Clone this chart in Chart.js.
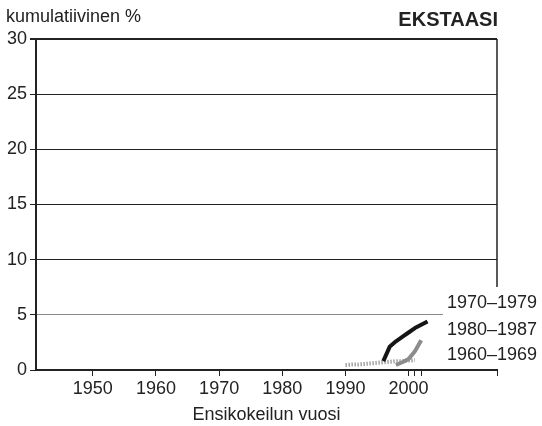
<!DOCTYPE html>
<html>
<head>
<meta charset="utf-8">
<title>Ekstaasi – kumulatiivinen %</title>
<script src="https://cdn.jsdelivr.net/npm/chart.js@4.4.1/dist/chart.umd.min.js"></script>
<style>
  html, body { margin: 0; padding: 0; background: #fff; }
  #wrap { width: 542px; height: 426px; position: relative; }
</style>
</head>
<body>
<div id="wrap"><canvas id="chart"></canvas></div>
<script>
// ---- Data ----
const yTicks = [0, 5, 10, 15, 20, 25, 30];
const xTickYears = [1950, 1960, 1970, 1980, 1990, 2000];
const xMinorTicks = [2001, 2002, 2014];

const cohortLabels = ['1970–1979', '1980–1987', '1960–1969'];

const years7079 = [1996, 1997, 1998, 1999, 2000, 2001, 2002, 2003];
const values7079 = [0.8, 2.1, 2.6, 3.0, 3.4, 3.8, 4.1, 4.4];

const years8087 = [1998, 1999, 2000, 2001, 2002];
const values8087 = [0.45, 0.7, 1.0, 1.7, 2.7];

const years6069 = [1990, 1991, 1992, 1993, 1994, 1995, 1996, 1997, 1998, 1999, 2000, 2001];
const values6069 = [0.45, 0.5, 0.5, 0.55, 0.6, 0.65, 0.7, 0.75, 0.8, 0.8, 0.85, 0.9];

const FONT = "'Liberation Sans', Arial, Helvetica, sans-serif";
const INK = '#222';

const toPoints = (xs, ys) => xs.map((x, i) => ({ x: x, y: ys[i] }));

// labels on the right, title texts and the frame bits Chart.js has no option for
const decorPlugin = {
  id: 'decor',
  afterDraw(chart) {
    const { ctx, chartArea } = chart;
    const yScale = chart.scales.y;
    const right = chartArea.right;

    ctx.save();
    // cut the 5 % line where the labels sit
    const y5 = yScale.getPixelForValue(5);
    ctx.fillStyle = '#fff';
    ctx.fillRect(right - 54, y5 - 4, 58, 8);

    // right frame line, stops above the labels
    ctx.strokeStyle = INK;
    ctx.lineWidth = 1.5;
    ctx.beginPath();
    ctx.moveTo(right, chartArea.top);
    ctx.lineTo(right, 287);
    ctx.stroke();

    ctx.fillStyle = INK;
    ctx.textBaseline = 'middle';
    ctx.textAlign = 'left';
    ctx.font = '18px ' + FONT;
    const labelY = [303, 330, 355];
    cohortLabels.forEach((t, i) => ctx.fillText(t, right - 50, labelY[i]));

    ctx.fillText('kumulatiivinen %', 6, 17);

    ctx.textAlign = 'right';
    ctx.font = 'bold 20px ' + FONT;
    ctx.fillText('EKSTAASI', right + 1, 20);
    ctx.restore();
  }
};

new Chart(document.getElementById('chart'), {
  type: 'line',
  data: {
    datasets: [
      {
        label: cohortLabels[0],
        data: toPoints(years7079, values7079),
        borderColor: '#151515',
        borderWidth: 4,
        pointRadius: 0,
        tension: 0,
        borderJoinStyle: 'round'
      },
      {
        label: cohortLabels[1],
        data: toPoints(years8087, values8087),
        borderColor: '#8c8c8c',
        borderWidth: 4,
        pointRadius: 0,
        tension: 0,
        borderJoinStyle: 'round'
      },
      {
        label: cohortLabels[2],
        data: toPoints(years6069, values6069),
        borderColor: '#a3a3a3',
        borderWidth: 4,
        borderDash: [1.5, 1.5],
        pointRadius: 0,
        tension: 0
      }
    ]
  },
  options: {
    responsive: true,
    maintainAspectRatio: false,
    animation: false,
    layout: { padding: { top: 39, right: 45, left: 0, bottom: 0 } },
    plugins: {
      legend: { display: false },
      tooltip: { enabled: false }
    },
    scales: {
      x: {
        type: 'linear',
        min: 1941,
        max: 2014,
        afterBuildTicks: (scale) => {
          scale.ticks = xTickYears.concat(xMinorTicks).map(v => ({ value: v }));
        },
        afterFit: (scale) => { scale.height = 56; },
        ticks: {
          color: INK,
          font: { family: FONT, size: 18 },
          padding: 2,
          maxRotation: 0,
          autoSkip: false,
          callback: (v) => xTickYears.includes(v) ? String(v) : ''
        },
        grid: {
          drawOnChartArea: false,
          drawTicks: true,
          tickLength: 6,
          color: INK,
          lineWidth: 1
        },
        border: { display: true, color: INK, width: 2 },
        title: {
          display: true,
          text: 'Ensikokeilun vuosi',
          color: INK,
          font: { family: FONT, size: 18 },
          padding: { top: 0, bottom: 0 }
        }
      },
      y: {
        min: 0,
        max: 30,
        afterBuildTicks: (scale) => {
          scale.ticks = yTicks.map(v => ({ value: v }));
        },
        afterFit: (scale) => { scale.width = 36; },
        ticks: {
          color: INK,
          font: { family: FONT, size: 18 },
          padding: 3
        },
        grid: {
          color: (c) => c.tick && c.tick.value === 5 ? '#8a8a8a' : INK,
          lineWidth: (c) => c.tick && c.tick.value === 30 ? 2 : 1,
          tickLength: 6,
          tickColor: INK
        },
        border: { display: true, color: INK, width: 2 }
      }
    }
  },
  plugins: [decorPlugin]
});
</script>
</body>
</html>
